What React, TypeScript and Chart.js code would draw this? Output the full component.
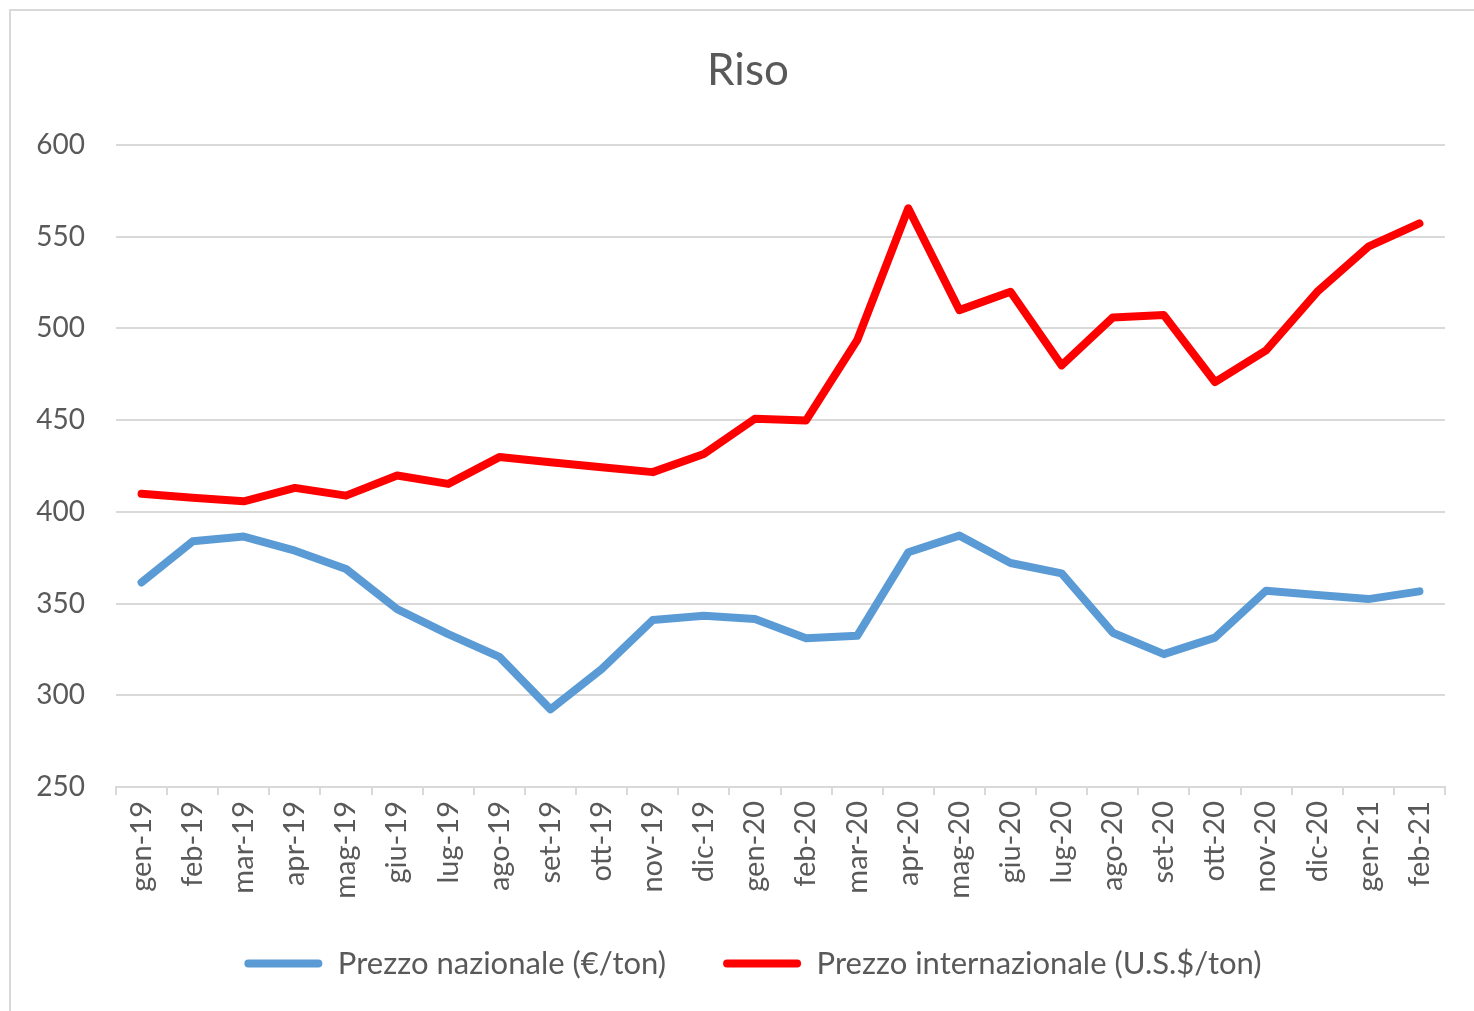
import React, { useEffect, useRef } from "react";
import { Chart, registerables } from "chart.js";

Chart.register(...registerables);

const categories = [
  "gen-19", "feb-19", "mar-19", "apr-19", "mag-19", "giu-19", "lug-19", "ago-19", "set-19",
  "ott-19", "nov-19", "dic-19", "gen-20", "feb-20", "mar-20", "apr-20", "mag-20", "giu-20",
  "lug-20", "ago-20", "set-20", "ott-20", "nov-20", "dic-20", "gen-21", "feb-21",
];

const prezzoNazionale = [
  361.5, 383.9, 386.5, 378.8, 368.8, 346.9, 333.3, 320.9, 292.3, 314.2, 341.0, 343.3, 341.5,
  331.1, 332.4, 377.9, 387.0, 372.1, 366.4, 334.1, 322.4, 331.4, 357.0, 354.6, 352.4, 356.6,
];

const prezzoInternazionale = [
  409.8, 407.7, 405.7, 413.0, 408.8, 419.8, 415.2, 429.8, 427.0, 424.3, 421.6, 431.5, 450.7,
  449.8, 493.5, 565.4, 509.9, 519.9, 479.8, 505.9, 507.2, 470.7, 488.0, 519.9, 544.5, 557.2,
];

const yMin = 250;
const yMax = 600;
const yStep = 50;

const seriesNames = ["Prezzo nazionale (€/ton)", "Prezzo internazionale (U.S.$/ton)"];
const titleText = "Riso";

const shiftBoxes = {
  id: "shiftBoxes",
  afterLayout(chart: any) {
    const t = chart.titleBlock;
    if (t) {
      t.left += 20;
      t.right += 20;
    }
    const l = chart.legend;
    if (l) {
      l.left += 25;
      l.right += 25;
      l.top -= 22;
      l.bottom -= 22;
    }
  },
};

export default function App() {
  const canvasRef = useRef<HTMLCanvasElement | null>(null);

  useEffect(() => {
    const canvas = canvasRef.current;
    if (!canvas) return;
    const textColor = "#595959";
    const gridColor = "#d9d9d9";
    const chart = new Chart(canvas, {
      type: "line",
      data: {
        labels: categories,
        datasets: [
          {
            label: seriesNames[0],
            data: prezzoNazionale,
            borderColor: "#5b9bd5",
            backgroundColor: "#5b9bd5",
            borderWidth: 8,
            pointRadius: 0,
            pointHoverRadius: 0,
            tension: 0,
            borderCapStyle: "round",
            borderJoinStyle: "round",
          },
          {
            label: seriesNames[1],
            data: prezzoInternazionale,
            borderColor: "#ff0000",
            backgroundColor: "#ff0000",
            borderWidth: 8,
            pointRadius: 0,
            pointHoverRadius: 0,
            tension: 0,
            borderCapStyle: "round",
            borderJoinStyle: "round",
          },
        ],
      },
      plugins: [shiftBoxes],
      options: {
        responsive: false,
        animation: false,
        layout: { padding: { left: 0, right: 29, top: 0, bottom: 0 } },
        plugins: {
          title: {
            display: true,
            text: titleText,
            color: textColor,
            font: { family: "Lato", size: 44, weight: "normal" },
            padding: { top: 33, bottom: 48 },
          },
          legend: {
            display: true,
            position: "bottom",
            labels: {
              color: textColor,
              font: { family: "Lato", size: 31 },
              boxWidth: 78,
              boxHeight: 8,
              padding: 57,
              useBorderRadius: true,
              borderRadius: 4,
              generateLabels: (c: any) =>
                c.data.datasets.map((ds: any, i: number) => ({
                  text: ds.label,
                  fillStyle: ds.borderColor,
                  strokeStyle: ds.borderColor,
                  lineWidth: 0,
                  borderRadius: 4,
                  hidden: false,
                  datasetIndex: i,
                  fontColor: textColor,
                })),
            },
          },
          tooltip: { enabled: false },
        },
        scales: {
          x: {
            offset: true,
            grid: {
              offset: true,
              drawOnChartArea: false,
              drawTicks: true,
              tickLength: 8,
              color: gridColor,
              lineWidth: 2,
            },
            border: { display: true, color: gridColor, width: 2 },
            ticks: {
              color: textColor,
              font: { family: "Lato", size: 29 },
              minRotation: 90,
              maxRotation: 90,
              autoSkip: false,
              padding: 6,
            },
            afterFit: (scale: any) => {
              scale.height = 126;
            },
          },
          y: {
            min: yMin,
            max: yMax,
            grid: { color: gridColor, lineWidth: 2, drawTicks: false },
            border: { display: false },
            ticks: {
              stepSize: yStep,
              color: textColor,
              font: { family: "Lato", size: 28 },
              padding: 31,
            },
            afterFit: (scale: any) => {
              scale.width = 105;
            },
          },
        },
      },
    });
    return () => chart.destroy();
  }, []);

  return (
    <div
      style={{
        position: "fixed",
        left: 0,
        top: 0,
        width: 1474,
        height: 1011,
        overflow: "hidden",
        background: "#ffffff",
      }}
    >
      <div
        style={{
          position: "absolute",
          left: 9,
          top: 9,
          width: 1465,
          height: 1002,
          borderTop: "2px solid #d9d9d9",
          borderLeft: "2px solid #d9d9d9",
          boxSizing: "border-box",
        }}
      />
      <canvas
        ref={canvasRef}
        width={1463}
        height={1000}
        style={{ position: "absolute", left: 11, top: 11, width: 1463, height: 1000 }}
      />
    </div>
  );
}
